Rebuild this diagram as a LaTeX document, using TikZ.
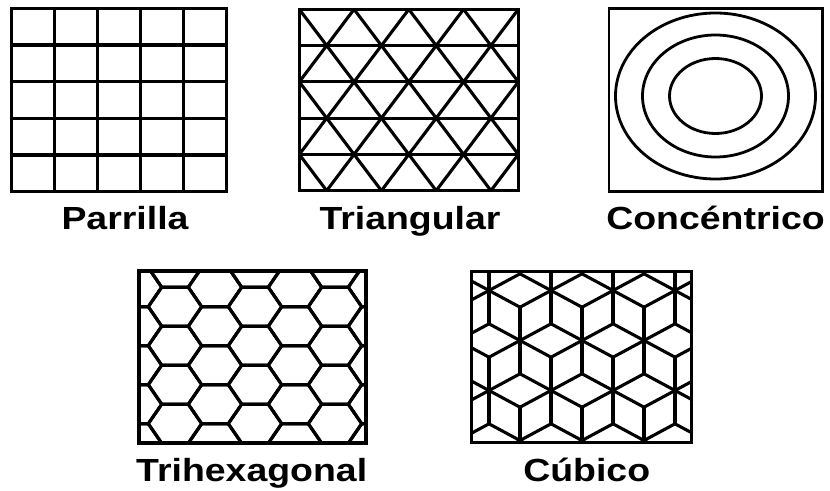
\documentclass[tikz,border=0pt]{standalone}
\usepackage{fontspec}
\newfontfamily\lblfont{Liberation Sans}[FakeStretch=1.17]
\usetikzlibrary{positioning}
\tikzset{
  panel/.style={draw, line width=3.4pt},
  pat/.style={line width=3.1pt},
  ring/.style={line width=2.8pt},
  lbl/.style={anchor=base, inner sep=0pt, font=\lblfont\bfseries\fontsize{32}{36}\selectfont},
}

\begin{document}
\begin{tikzpicture}[x=1pt, y=-1pt]
\useasboundingbox (0,0) rectangle (830,490);

% Parrilla
\foreach \i in {1,...,4} {
  \draw[pat] ({11.7+43*\i},8.3) -- ++(0,183.4);
  \draw[pat] (11.7,{8.3+36.68*\i}) -- ++(215,0);
}
\draw[panel] (11.7,8.3) rectangle (226.7,191.7);
\node[lbl] (parrilla) at (125,229.3) {Parrilla};

% Triangular
\begin{scope}
  \clip (299.3,9.3) rectangle (518.3,190.7);
  \foreach \k in {-3,...,7} {
    \draw[pat] ({299.3+54.75*\k},9.3) -- ++(136.9,181.4);
    \draw[pat] ({299.3+54.75*\k},9.3) -- ++(-136.9,181.4);
  }
  \foreach \i in {1,...,4}
    \draw[pat] (299.3,{9.3+36.28*\i}) -- ++(219,0);
\end{scope}
\draw[panel] (299.3,9.3) rectangle (518.3,190.7);
\node[lbl] (triangular) at (410,229.3) {Triangular};

% Concentrico
\draw[panel, line width=2.8pt] (609,8.3) rectangle (822.7,191.7);
\draw[ring] (715.5,96) ellipse [x radius=100, y radius=83];
\draw[ring] (715.5,96) ellipse [x radius=73, y radius=61];
\draw[ring] (715.5,96) ellipse [x radius=46, y radius=37.5];
\node[lbl] (concentrico) at (715.5,229.3) {Concéntrico};

% Trihexagonal
\begin{scope}
  \clip (139,271) rectangle (366,443);
  \foreach \hx/\hy in {135/287.2, 175/306.7, 215/287.2, 255/306.7, 295/287.2, 335/306.7, 375/287.2}
    \foreach \r in {-1,...,4}
      \draw[pat] ({\hx-26.7},{\hy+39*\r}) -- ++(13.4,-19.5) -- ++(26.6,0)
        -- ++(13.4,19.5) -- ++(-13.4,19.5) -- ++(-26.6,0) -- cycle;
\end{scope}
\draw[panel] (139,271) rectangle (366,443);
\node[lbl] (trihex) at (251.7,481) {Trihexagonal};

% Cubico
\begin{scope}
  \clip (471.7,271.7) rectangle (691.7,442.7);
  \foreach \hy/\hx in {240.5/520, 290.5/489, 340.5/520, 390.5/489, 440.5/520}
    \foreach \i in {-1,...,3} {
      \coordinate (hub) at ({\hx+62*\i},\hy);
      \draw[pat] (hub) -- ++(0,-33.3);
      \draw[pat] (hub) -- ++(0,33.3);
      \draw[pat] (hub) -- ++(31,-16.7);
      \draw[pat] (hub) -- ++(-31,-16.7);
      \draw[pat] (hub) -- ++(31,16.7);
      \draw[pat] (hub) -- ++(-31,16.7);
    }
\end{scope}
\draw[panel] (471.7,271.7) rectangle (691.7,442.7);
\node[lbl] (cubico) at (586.7,481) {Cúbico};

\end{tikzpicture}
\end{document}
